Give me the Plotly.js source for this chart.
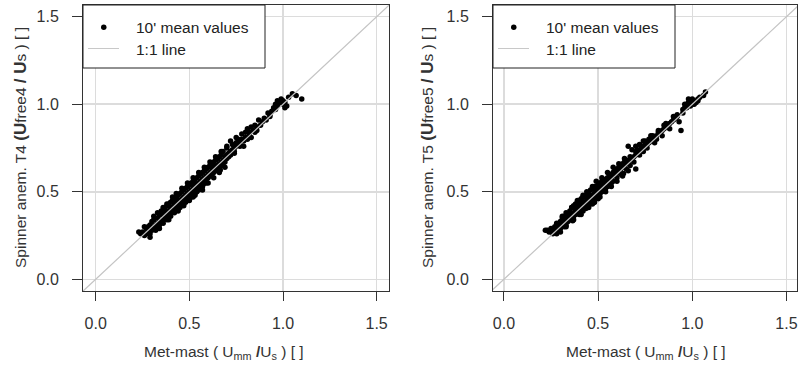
<!DOCTYPE html>
<html>
<head>
<meta charset="utf-8">
<script src="https://cdn.plot.ly/plotly-3.0.1.min.js"></script>
<style>html,body{margin:0;padding:0;background:#fff;}#chart{width:799px;height:372px;}</style>
</head>
<body>
<div id="chart"></div>
<script>
// ---- data ----
const tickVals = [0, 0.5, 1.0, 1.5];
const tickText = ["0.0", "0.5", "1.0", "1.5"];
const legendLabels = ["10' mean values", "1:1 line"];
const oneToOne = [-0.2, 1.8];

// Left panel: met-mast vs spinner anemometer T4
const t4X = [0.23,0.24,0.25,0.26,0.27,0.27,0.28,0.28,0.29,0.29,0.29,0.30,0.30,0.30,
 0.31,0.31,0.32,0.32,0.33,0.33,0.33,0.34,0.34,0.34,0.35,0.35,0.35,0.36,0.36,0.36,0.37,0.37,0.37,0.38,0.38,0.38,0.39,0.39,0.39,
 0.40,0.40,0.40,0.40,0.41,0.41,0.41,0.42,0.42,0.42,0.42,0.43,0.43,0.43,0.44,0.44,0.44,0.44,0.45,0.45,0.45,0.45,
 0.46,0.46,0.46,0.47,0.47,0.47,0.47,0.48,0.48,0.48,0.48,0.49,0.49,0.49,0.49,0.50,0.50,0.50,0.50,
 0.51,0.51,0.51,0.51,0.52,0.52,0.52,0.52,0.53,0.53,0.53,0.53,0.54,0.54,0.54,0.54,0.55,0.55,0.55,0.55,
 0.56,0.56,0.56,0.56,0.57,0.57,0.57,0.57,0.58,0.58,0.58,0.59,0.59,0.59,0.59,0.60,0.60,0.60,
 0.61,0.61,0.61,0.62,0.62,0.62,0.63,0.63,0.63,0.64,0.64,0.64,0.65,0.65,0.65,0.66,0.66,0.66,0.67,0.67,0.67,
 0.68,0.68,0.68,0.69,0.69,0.70,0.70,0.70,0.71,0.71,0.72,0.72,0.72,0.73,0.73,0.74,0.74,0.75,0.75,0.76,0.76,
 0.77,0.77,0.78,0.78,0.79,0.80,0.80,0.81,0.82,0.82,0.83,0.84,0.85,0.85,0.86,0.87,0.88,0.89,0.90,0.91,
 0.92,0.93,0.94,0.95,0.96,0.96,0.97,0.98,0.99,1.00,1.00,1.01,1.02,1.03,1.05,1.07,1.10,
 0.26,0.31,0.33,0.36,0.38,0.41,0.43,0.46,0.49,0.52,0.55,0.58,0.61,0.64,0.67,0.70,
 0.34,0.39,0.44,0.47,0.50,0.53,0.57,0.60,0.63,0.66,0.69,0.74,0.79,0.83,0.86,0.93,0.97,0.99,1.01,0.75,0.81,
 0.355,0.415,0.465,0.515,0.565,0.615,0.665,0.375,0.425,0.475,0.525,0.575,0.625];
const t4Y = [0.27,0.26,0.27,0.25,0.26,0.29,0.27,0.30,0.26,0.31,0.24,0.28,0.33,0.29,
 0.30,0.34,0.31,0.28,0.35,0.32,0.30,0.31,0.37,0.34,0.33,0.37,0.39,0.34,0.39,0.32,0.40,0.36,0.35,0.38,0.42,0.34,0.37,0.43,0.39,
 0.38,0.44,0.41,0.36,0.41,0.45,0.39,0.40,0.46,0.43,0.38,0.43,0.47,0.41,0.42,0.48,0.45,0.40,0.45,0.49,0.43,0.41,
 0.46,0.50,0.44,0.47,0.51,0.45,0.43,0.48,0.52,0.46,0.44,0.49,0.53,0.47,0.45,0.50,0.54,0.48,0.46,
 0.51,0.55,0.49,0.47,0.52,0.56,0.50,0.47,0.53,0.57,0.51,0.49,0.54,0.58,0.52,0.50,0.55,0.59,0.53,0.51,
 0.56,0.60,0.54,0.52,0.57,0.61,0.55,0.53,0.58,0.62,0.56,0.59,0.63,0.57,0.55,0.60,0.64,0.58,
 0.61,0.65,0.59,0.62,0.66,0.60,0.63,0.67,0.61,0.64,0.68,0.62,0.65,0.69,0.63,0.66,0.70,0.64,0.67,0.71,0.65,
 0.68,0.73,0.66,0.70,0.67,0.71,0.75,0.69,0.72,0.70,0.73,0.79,0.71,0.74,0.77,0.75,0.73,0.78,0.76,0.77,0.80,
 0.78,0.76,0.80,0.83,0.79,0.81,0.84,0.80,0.84,0.82,0.87,0.85,0.88,0.84,0.87,0.91,0.88,0.90,0.92,0.91,
 0.95,0.94,0.96,0.98,1.00,0.97,1.02,1.01,1.02,1.00,1.02,1.01,0.99,1.04,1.06,1.05,1.03,
 0.30,0.36,0.38,0.41,0.43,0.47,0.49,0.52,0.55,0.58,0.61,0.64,0.67,0.70,0.73,0.76,
 0.29,0.34,0.39,0.42,0.45,0.48,0.51,0.55,0.58,0.61,0.64,0.72,0.76,0.81,0.85,0.93,0.99,1.03,0.98,0.81,0.86,
 0.385,0.445,0.425,0.545,0.525,0.645,0.625,0.345,0.455,0.445,0.555,0.545,0.655];

// Right panel: met-mast vs spinner anemometer T5
const t5X = [0.22,0.23,0.24,0.25,0.26,0.26,0.27,0.27,0.28,0.28,0.29,0.29,0.30,0.30,0.30,
 0.31,0.31,0.32,0.32,0.32,0.33,0.33,0.34,0.34,0.34,0.35,0.35,0.35,0.36,0.36,0.36,0.37,0.37,0.37,0.38,0.38,0.38,0.39,0.39,0.39,
 0.40,0.40,0.40,0.40,0.41,0.41,0.41,0.42,0.42,0.42,0.42,0.43,0.43,0.43,0.44,0.44,0.44,0.44,0.45,0.45,0.45,0.45,
 0.46,0.46,0.46,0.47,0.47,0.47,0.47,0.48,0.48,0.48,0.48,0.49,0.49,0.49,0.50,0.50,0.50,0.50,
 0.51,0.51,0.51,0.52,0.52,0.52,0.53,0.53,0.53,0.54,0.54,0.54,0.55,0.55,0.55,
 0.56,0.56,0.56,0.57,0.57,0.57,0.58,0.58,0.58,0.59,0.59,0.60,0.60,0.60,
 0.61,0.61,0.62,0.62,0.62,0.63,0.63,0.64,0.64,0.65,0.65,0.65,0.66,0.66,0.67,0.67,0.67,
 0.68,0.68,0.69,0.69,0.70,0.70,0.70,0.71,0.71,0.72,0.72,0.73,0.73,0.74,0.74,0.75,0.76,0.76,
 0.77,0.77,0.78,0.79,0.79,0.80,0.81,0.81,0.82,0.83,0.84,0.85,0.86,0.87,0.88,0.89,0.90,0.91,0.92,0.94,
 0.95,0.96,0.97,0.97,0.98,0.99,1.00,1.00,1.01,1.02,1.03,1.04,1.06,1.07,
 0.28,0.31,0.33,0.36,0.39,0.42,0.44,0.47,0.49,0.52,0.55,0.58,0.61,0.64,
 0.33,0.37,0.41,0.45,0.48,0.51,0.54,0.57,0.60,0.63,0.66,0.72,0.75,0.78,0.80,0.82,0.84,0.86,0.88,0.90,
 0.93,0.95,0.96,0.98,0.99,1.00,1.01,1.03,0.85,0.92,0.70,0.74,
 0.345,0.395,0.435,0.485,0.535,0.585,0.635,0.365,0.415,0.465,0.515,0.565];
const t5Y = [0.28,0.28,0.27,0.29,0.26,0.28,0.27,0.30,0.29,0.26,0.31,0.28,0.29,0.33,0.27,
 0.32,0.35,0.33,0.30,0.36,0.34,0.31,0.37,0.33,0.36,0.36,0.39,0.34,0.37,0.41,0.35,0.38,0.42,0.36,0.40,0.43,0.37,0.40,0.44,0.38,
 0.41,0.45,0.39,0.37,0.42,0.46,0.40,0.43,0.47,0.41,0.39,0.44,0.47,0.42,0.45,0.48,0.43,0.41,0.46,0.49,0.44,0.42,
 0.47,0.51,0.44,0.48,0.52,0.45,0.43,0.49,0.53,0.46,0.44,0.50,0.53,0.47,0.51,0.54,0.48,0.46,
 0.52,0.55,0.49,0.53,0.56,0.50,0.54,0.57,0.51,0.55,0.57,0.52,0.56,0.58,0.53,
 0.57,0.59,0.54,0.58,0.60,0.55,0.59,0.61,0.56,0.60,0.62,0.61,0.63,0.58,
 0.62,0.64,0.63,0.65,0.60,0.64,0.66,0.65,0.67,0.66,0.68,0.63,0.67,0.76,0.68,0.70,0.65,
 0.69,0.74,0.70,0.67,0.71,0.73,0.63,0.72,0.74,0.73,0.71,0.74,0.76,0.75,0.73,0.77,0.77,0.75,
 0.78,0.80,0.79,0.80,0.82,0.81,0.82,0.80,0.84,0.84,0.85,0.86,0.87,0.88,0.89,0.90,0.91,0.92,0.93,0.85,
 0.97,0.98,1.00,0.98,1.01,1.02,1.03,1.00,1.02,1.01,1.03,1.04,1.05,1.07,
 0.32,0.36,0.38,0.41,0.45,0.48,0.50,0.53,0.56,0.58,0.61,0.64,0.66,0.69,
 0.30,0.34,0.37,0.41,0.44,0.47,0.50,0.53,0.56,0.59,0.62,0.77,0.79,0.82,0.78,0.85,0.82,0.89,0.86,0.93,
 0.90,0.95,1.00,1.03,0.99,1.02,1.00,1.02,0.88,0.94,0.76,0.79,
 0.375,0.425,0.405,0.515,0.505,0.615,0.605,0.335,0.445,0.435,0.545,0.535];

// ---- layout helpers (pixel -> paper fractions) ----
const W = 799, H = 372;
const px = v => v / W;
const py = v => 1 - v / H;
const textCol = '#333333';

function axisStyle(range, domain, anchor, len, standoff) {
  return {
    range: range, domain: domain, anchor: anchor,
    tickvals: tickVals, ticktext: tickText,
    showgrid: true, gridcolor: '#dcdcdc', gridwidth: 1.5,
    zeroline: false, showline: true, mirror: true, linecolor: '#333', linewidth: 1,
    ticks: 'outside', ticklen: len, tickcolor: '#333', tickwidth: 1,
    ticklabelstandoff: standoff,
    tickfont: {family: 'Liberation Sans, Arial, sans-serif', size: 16, color: textCol},
    fixedrange: true
  };
}

const pointStyle = {color: '#000', size: 5.5};
const lineStyle = {color: '#c4c4c4', width: 1.2};

const traces = [
  {x: t4X, y: t4Y, xaxis: 'x', yaxis: 'y', type: 'scatter', mode: 'markers', marker: pointStyle, name: legendLabels[0], showlegend: false},
  {x: oneToOne, y: oneToOne, xaxis: 'x', yaxis: 'y', type: 'scatter', mode: 'lines', line: lineStyle, name: legendLabels[1], showlegend: false},
  {x: t5X, y: t5Y, xaxis: 'x2', yaxis: 'y2', type: 'scatter', mode: 'markers', marker: pointStyle, name: legendLabels[0], showlegend: false},
  {x: oneToOne, y: oneToOne, xaxis: 'x2', yaxis: 'y2', type: 'scatter', mode: 'lines', line: lineStyle, name: legendLabels[1], showlegend: false}
];

const yDom = [py(291), py(5)];
const layout = {
  width: W, height: H,
  margin: {l: 0, r: 0, t: 0, b: 0},
  paper_bgcolor: '#fff', plot_bgcolor: '#fff',
  showlegend: false,
  font: {family: 'Liberation Sans, Arial, sans-serif', color: textCol},
  xaxis: axisStyle([-0.068, 1.566], [px(83), px(389)], 'y', 9, 9),
  yaxis: axisStyle([-0.067, 1.567], yDom, 'x', 10, 10),
  xaxis2: axisStyle([-0.058, 1.556], [px(493), px(797)], 'y2', 9, 9),
  yaxis2: axisStyle([-0.067, 1.567], yDom, 'x2', 10, 10),
  shapes: [],
  annotations: []
};

// Legend boxes drawn per panel
function addLegend(left) {
  const top = 5, bottom = 68, right = left + 182;
  layout.shapes.push({type: 'rect', xref: 'paper', yref: 'paper', x0: px(left), x1: px(right), y0: py(bottom), y1: py(top),
    line: {color: '#222', width: 1}, fillcolor: '#fff', layer: 'above'});
  layout.shapes.push({type: 'circle', xref: 'paper', yref: 'paper', x0: px(left + 18), x1: px(left + 23.5), y0: py(30), y1: py(24.5),
    line: {color: '#000', width: 0}, fillcolor: '#000', layer: 'above'});
  layout.shapes.push({type: 'line', xref: 'paper', yref: 'paper', x0: px(left + 5), x1: px(left + 36), y0: py(48.5), y1: py(48.5),
    line: {color: '#c8c8c8', width: 1}, layer: 'above'});
  layout.annotations.push({xref: 'paper', yref: 'paper', x: px(left + 51), y: py(27), xanchor: 'left', yanchor: 'middle',
    text: legendLabels[0], showarrow: false, font: {size: 15.5, color: '#222'}});
  layout.annotations.push({xref: 'paper', yref: 'paper', x: px(left + 51), y: py(49), xanchor: 'left', yanchor: 'middle',
    text: legendLabels[1], showarrow: false, font: {size: 15.5, color: '#222'}});
}
addLegend(83);
addLegend(493);

// Axis titles
const xTitle = "Met-mast ( U<sub>mm</sub> <b>/</b>U<sub>s</sub> ) [ ]";
function yTitle(n) {
  return "Spinner anem. T" + n + " <b><span style='font-size:17px'>(U</span></b>free" + n + " <b><span style='font-size:17px'>/ U</span></b>s ) [ ]";
}
layout.annotations.push({xref: 'paper', yref: 'paper', x: px(223.5), y: py(352), xanchor: 'center', yanchor: 'middle',
  text: xTitle, showarrow: false, font: {size: 15.5, color: textCol}});
layout.annotations.push({xref: 'paper', yref: 'paper', x: px(645.5), y: py(352), xanchor: 'center', yanchor: 'middle',
  text: xTitle, showarrow: false, font: {size: 15.5, color: textCol}});
layout.annotations.push({xref: 'paper', yref: 'paper', x: px(20), y: py(148), xanchor: 'center', yanchor: 'middle', textangle: -90,
  text: yTitle(4), showarrow: false, font: {size: 15.5, color: textCol}});
layout.annotations.push({xref: 'paper', yref: 'paper', x: px(427), y: py(148), xanchor: 'center', yanchor: 'middle', textangle: -90,
  text: yTitle(5), showarrow: false, font: {size: 15.5, color: textCol}});

Plotly.newPlot('chart', traces, layout, {staticPlot: true, displayModeBar: false});
</script>
</body>
</html>
